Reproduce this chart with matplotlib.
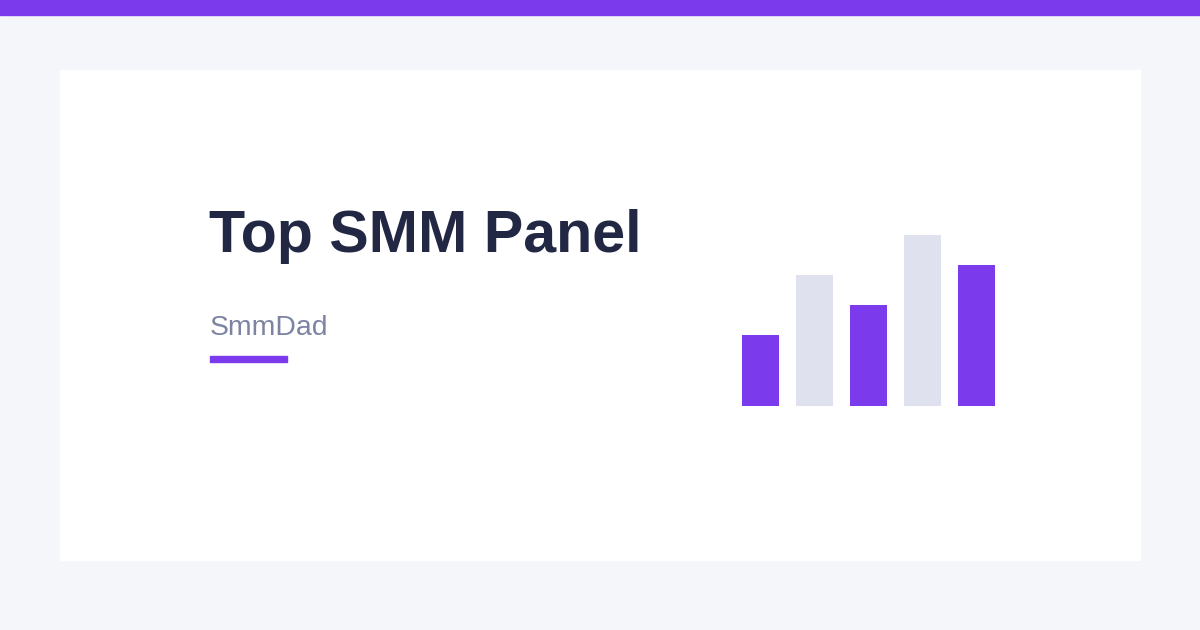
import matplotlib.pyplot as plt
from matplotlib.patches import Rectangle

W, H = 1200, 630

title = "Top SMM Panel"
subtitle = "SmmDad"
bar_values = [71, 131, 101, 171, 141]
bar_colors = ["#7c3aed", "#e0e1ee", "#7c3aed", "#e0e1ee", "#7c3aed"]

purple = "#7c3aed"

fig = plt.figure(figsize=(W / 100, H / 100), dpi=100)
fig.patch.set_facecolor("#f5f6fa")


def fx(x):
    return x / W


def fy(y):
    return 1 - y / H


# top stripe and white card
fig.patches.append(Rectangle((0, fy(15)), 1, 15 / H, transform=fig.transFigure,
                             color=purple, zorder=0))
fig.patches.append(Rectangle((fx(60), fy(560)), 1080 / W, 490 / H,
                             transform=fig.transFigure, color="white", zorder=0))

fig.text(fx(209), fy(252), title, fontsize=42.6, fontweight="bold",
         family="Liberation Sans", color="#222844", va="baseline")
fig.text(fx(210), fy(335), subtitle, fontsize=20.4, family="Liberation Sans",
         color="#7d84a3", va="baseline")
fig.patches.append(Rectangle((fx(210), fy(362)), 77 / W, 6 / H,
                             transform=fig.transFigure, color=purple, zorder=1))

# small bar chart
ax = fig.add_axes([fx(742), fy(406), 253 / W, 171 / H], zorder=5)
ax.patch.set_alpha(0)
w = 37 / 54
ax.bar(range(len(bar_values)), bar_values, width=w, color=bar_colors)
ax.set_xlim(-w / 2, len(bar_values) - 1 + w / 2)
ax.set_ylim(0, max(bar_values))
ax.axis("off")

fig.savefig("out.png", dpi=100, facecolor=fig.get_facecolor())
